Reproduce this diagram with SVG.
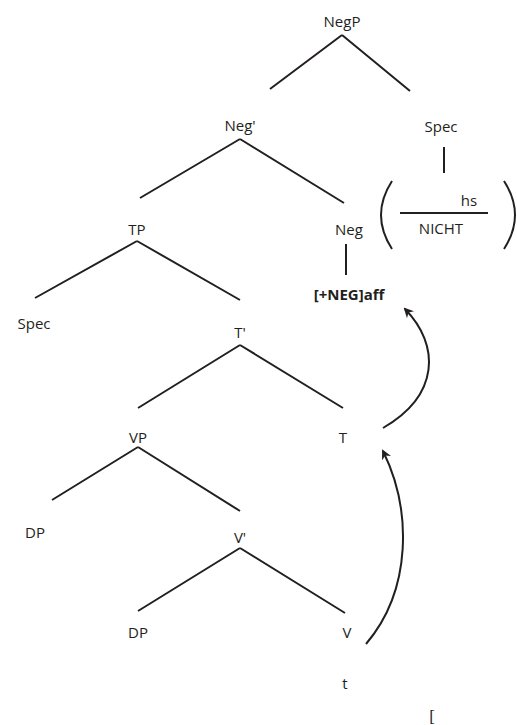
<svg xmlns="http://www.w3.org/2000/svg" width="517" height="725" viewBox="0 0 517 725">
<defs>
<style>
text{font-family:"Open Sans","Liberation Sans",sans-serif;font-size:15px;fill:#231f20;text-anchor:middle}
.b{font-weight:bold}
.e{stroke:#231f20;stroke-width:2;fill:none}
</style>
<marker id="ah" viewBox="0 0 10 10" refX="8" refY="5" markerWidth="10" markerHeight="10" orient="auto-start-reverse" markerUnits="userSpaceOnUse">
<path d="M0,0 L10,5 L0,10 L3,5 Z" fill="#231f20"/>
</marker>
</defs>
<rect width="517" height="725" fill="#fff"/>
<g id="connectors">
<path class="e" d="M342,35 L270,89 M342,35 L410,91"/>
<path class="e" d="M240,139 L140,198 M240,139 L344,203"/>
<path class="e" d="M444,147 L444,173"/>
<path class="e" d="M346,244 L346,275"/>
<path class="e" d="M137,241 L35,298 M137,241 L240,300"/>
<path class="e" d="M240,345 L138,408 M240,345 L343,408"/>
<path class="e" d="M138,447 L52,500 M138,447 L240,511"/>
<path class="e" d="M240,548 L138,611 M240,548 L345,613"/>
<path class="e" d="M400,213 L488,213"/>
<path class="e" d="M392,181 Q370,215 392,249"/>
<path class="e" d="M504,181 Q526,215 504,249"/>
<path class="e" d="M366,644 C412,590 412,510 383,451" marker-end="url(#ah)"/>
<path class="e" d="M383,428 C440,395 440,345 405,309" marker-end="url(#ah)"/>
</g>
<g id="NegP"><text x="342" y="27">NegP</text></g>
<g id="NegBar"><text x="240" y="131">Neg'</text></g>
<g id="SpecNeg"><text x="441" y="132">Spec</text></g>
<g id="feature"><text x="469" y="206">hs</text><text x="441" y="234">NICHT</text></g>
<g id="Neg"><text x="349" y="235">Neg</text></g>
<g id="aff"><text class="b" x="349" y="300">[+NEG]aff</text></g>
<g id="TP"><text x="137" y="235">TP</text></g>
<g id="SpecT"><text x="34" y="329">Spec</text></g>
<g id="TBar"><text x="240" y="338">T'</text></g>
<g id="T"><text x="343" y="443">T</text></g>
<g id="VP"><text x="138" y="443">VP</text></g>
<g id="DP1"><text x="35" y="538">DP</text></g>
<g id="VBar"><text x="240" y="543">V'</text></g>
<g id="DP2"><text x="138" y="638">DP</text></g>
<g id="V"><text x="347" y="638">V</text></g>
<g id="trace"><text x="345" y="689">t</text></g>
<text x="432" y="722" style="text-anchor:middle;font-family:'Liberation Serif',serif;font-size:17px">[</text>
</svg>
